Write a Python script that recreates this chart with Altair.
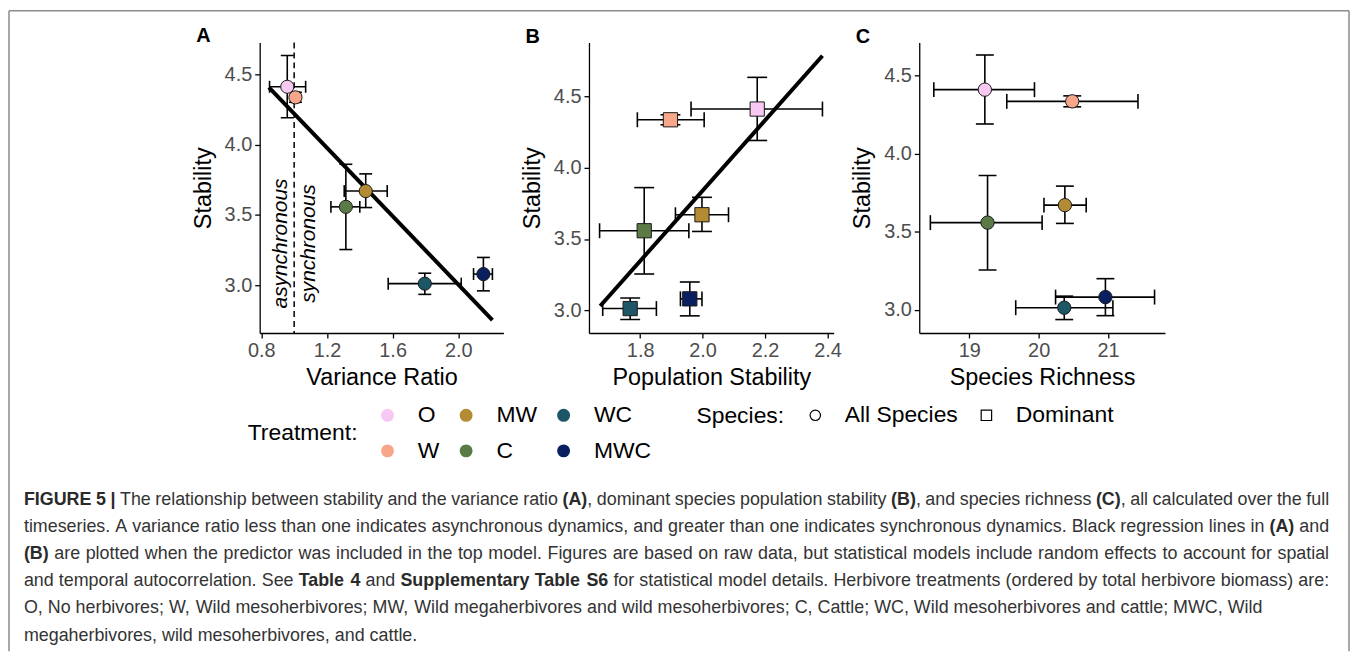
import altair as alt
import pandas as pd

# ---------------- data ----------------
treatments = ["O", "W", "MW", "C", "WC", "MWC"]
treatment_colors = ["#F6C8F2", "#F8A68A", "#B38B33", "#5A7B46", "#1D5667", "#0A1F5F"]
species_names = ["All Species", "Dominant"]

stability = [4.41, 4.335, 3.67, 3.558, 3.013, 3.081]
stability_lo = [4.19, 4.30, 3.553, 3.255, 2.937, 2.962]
stability_hi = [4.632, 4.37, 3.792, 3.86, 3.087, 3.199]

variance_ratio = [0.958, 1.008, 1.436, 1.315, 1.796, 2.153]
variance_ratio_lo = [0.85, 0.985, 1.305, 1.224, 1.573, 2.093]
variance_ratio_hi = [1.07, 1.03, 1.567, 1.40, 2.018, 2.208]

pop_stability = [2.175, 1.897, 1.998, 1.813, 1.768, 1.959]
pop_stability_lo = [1.963, 1.791, 1.913, 1.670, 1.680, 1.929]
pop_stability_hi = [2.384, 2.005, 2.083, 1.956, 1.852, 1.998]

richness = [19.225, 20.484, 20.378, 19.264, 20.369, 20.962]
richness_lo = [18.49, 19.541, 20.077, 18.44, 19.67, 20.244]
richness_hi = [19.94, 21.431, 20.685, 20.05, 21.07, 21.67]

fit_a_x = [0.846, 2.208]
fit_a_y = [4.406, 2.755]
fit_b_x = [1.672, 2.384]
fit_b_y = [3.031, 4.783]

sync_labels = ["asynchronous", "synchronous"]
sync_x = [0.921, 1.088]
sync_y = [3.298, 3.298]
vline_x = [1.0]

y_ticks = [3.0, 3.5, 4.0, 4.5]

caption_lines = [
    "**FIGURE 5 |** The relationship between stability and the variance ratio **(A)**, dominant species population stability **(B)**, and species richness **(C)**, all calculated over the full",
    "timeseries. A variance ratio less than one indicates asynchronous dynamics, and greater than one indicates synchronous dynamics. Black regression lines in **(A)** and",
    "**(B)** are plotted when the predictor was included in the top model. Figures are based on raw data, but statistical models include random effects to account for spatial",
    "and temporal autocorrelation. See **Table 4** and **Supplementary Table S6** for statistical model details. Herbivore treatments (ordered by total herbivore biomass) are:",
    "O, No herbivores; W, Wild mesoherbivores; MW, Wild megaherbivores and wild mesoherbivores; C, Cattle; WC, Wild mesoherbivores and cattle; MWC, Wild",
    "megaherbivores, wild mesoherbivores, and cattle.",
]

FONT = "Liberation Sans"

# ---------------- scales / legends ----------------
fill_scale = alt.Scale(domain=treatments, range=treatment_colors)
shape_scale = alt.Scale(domain=species_names, range=["circle", "square"])

fill_legend = alt.Legend(
    title="Treatment:", orient="none", legendX=-12, legendY=363, columns=3,
    titleOrient="left", titleAnchor="middle", titleFontSize=23, titleFontWeight="normal",
    titleColor="black", titleFont=FONT, titlePadding=18,
    labelFontSize=23, labelColor="black", labelFont=FONT, labelOffset=19,
    symbolType="circle", symbolSize=170, symbolStrokeWidth=0,
    columnPadding=15, rowPadding=12,
)
shape_legend = alt.Legend(
    title="Species:", orient="none", legendX=439, legendY=363, direction="horizontal",
    titleOrient="left", titleAnchor="middle", titleFontSize=23, titleFontWeight="normal",
    titleColor="black", titleFont=FONT, titlePadding=19,
    labelFontSize=23, labelColor="black", labelFont=FONT, labelOffset=18,
    symbolSize=110, symbolFillColor="white", symbolStrokeColor="black", symbolStrokeWidth=1.2,
    columnPadding=17,
)


def panel(letter, xvals, xlo, xhi, species, xdomain, xticks, xfmt, xtitle, ydomain,
          width, vcap, hcap, psize, fit=None, annot=False):
    df = pd.DataFrame({
        "treatment": treatments, "x": xvals, "xlo": xlo, "xhi": xhi,
        "y": stability, "ylo": stability_lo, "yhi": stability_hi,
        "species": [species] * len(treatments),
    })
    xs = alt.Scale(domain=xdomain, nice=False, zero=False)
    ys = alt.Scale(domain=ydomain, nice=False, zero=False)
    ax = alt.Axis(values=xticks, format=xfmt, title=xtitle)
    ay = alt.Axis(values=y_ticks, format=".1f", title="Stability")

    def X(f):
        return alt.X(f, type="quantitative", scale=xs, axis=ax)

    def Y(f):
        return alt.Y(f, type="quantitative", scale=ys, axis=ay)

    base = alt.Chart(df)
    layers = []
    if annot:
        vdf = pd.DataFrame({"x": vline_x})
        layers.append(alt.Chart(vdf).mark_rule(color="black", strokeWidth=1.5, strokeDash=[6, 4])
                      .encode(x=X("x")))
        tdf = pd.DataFrame({"label": sync_labels, "x": sync_x, "y": sync_y})
        layers.append(alt.Chart(tdf).mark_text(angle=270, fontStyle="italic", fontSize=21,
                                               font=FONT, color="black")
                      .encode(x=X("x"), y=Y("y"), text="label:N"))
    layers.append(base.mark_rule(color="black", strokeWidth=1.6)
                  .encode(x=X("x"), y=Y("ylo"), y2="yhi"))
    layers.append(base.transform_fold(["ylo", "yhi"], as_=["k", "cy"])
                  .mark_tick(orient="horizontal", size=vcap, thickness=1.6, color="black", opacity=1)
                  .encode(x=X("x"), y=Y("cy")))
    layers.append(base.mark_rule(color="black", strokeWidth=1.6)
                  .encode(y=Y("y"), x=X("xlo"), x2="xhi"))
    layers.append(base.transform_fold(["xlo", "xhi"], as_=["k", "cx"])
                  .mark_tick(orient="vertical", size=hcap, thickness=1.6, color="black", opacity=1)
                  .encode(x=X("cx"), y=Y("y")))
    if fit is not None:
        fdf = pd.DataFrame({"x": fit[0], "y": fit[1]})
        layers.append(alt.Chart(fdf).mark_line(color="black", strokeWidth=4)
                      .encode(x=X("x"), y=Y("y")))
    layers.append(base.mark_point(filled=True, opacity=1, stroke="#1a1a1a", strokeWidth=1, size=psize)
                  .encode(x=X("x"), y=Y("y"),
                          fill=alt.Fill("treatment:N", scale=fill_scale, legend=fill_legend),
                          shape=alt.Shape("species:N", scale=shape_scale, legend=shape_legend)))
    return alt.layer(*layers).properties(
        width=width, height=292,
        title=alt.TitleParams(letter, anchor="start", frame="bounds", fontSize=20,
                              fontWeight="bold", font=FONT, color="black",
                              baseline="alphabetic", offset=-20, dx=5),
    )


pa = panel("A", variance_ratio, variance_ratio_lo, variance_ratio_hi, "All Species",
           [0.79, 2.275], [0.8, 1.2, 1.6, 2.0], ".1f", "Variance Ratio", [2.663, 4.724],
           245, 13, 12, 175, fit=(fit_a_x, fit_a_y), annot=True)
pb = panel("B", pop_stability, pop_stability_lo, pop_stability_hi, "Dominant",
           [1.636, 2.42], [1.8, 2.0, 2.2, 2.4], ".1f", "Population Stability", [2.842, 4.876],
           246, 20, 15, 205, fit=(fit_b_x, fit_b_y))
pc = panel("C", richness, richness_lo, richness_hi, "All Species",
           [18.28, 21.82], [19, 20, 21], "d", "Species Richness", [2.851, 4.712],
           247, 18, 15, 180)

# ---------------- caption (text layout) ----------------
REG = {" ": 278, "(": 333, ")": 333, ",": 278, ".": 278, ":": 278, ";": 278, "|": 260, "-": 333}
BLD = {" ": 278, "(": 333, ")": 333, ",": 278, ".": 278, ":": 333, ";": 333, "|": 280, "-": 333}
for d in "0123456789":
    REG[d] = 556
    BLD[d] = 556
for c, w in zip("ABCDEFGHIJKLMNOPQRSTUVWXYZ",
                [667, 667, 722, 722, 667, 611, 778, 722, 278, 500, 667, 556, 833, 722, 778, 667, 778, 722, 667, 611, 722, 667, 944, 667, 667, 611]):
    REG[c] = w
for c, w in zip("abcdefghijklmnopqrstuvwxyz",
                [556, 556, 500, 556, 556, 278, 556, 556, 222, 222, 500, 222, 833, 556, 556, 556, 556, 333, 500, 278, 556, 500, 722, 500, 500, 500]):
    REG[c] = w
for c, w in zip("ABCDEFGHIJKLMNOPQRSTUVWXYZ",
                [722, 722, 722, 722, 667, 611, 778, 722, 278, 556, 722, 611, 833, 722, 778, 667, 778, 722, 667, 611, 722, 667, 944, 667, 667, 611]):
    BLD[c] = w
for c, w in zip("abcdefghijklmnopqrstuvwxyz",
                [556, 611, 556, 611, 556, 333, 611, 611, 278, 278, 556, 278, 889, 611, 611, 611, 611, 389, 556, 333, 611, 556, 778, 556, 556, 500]):
    BLD[c] = w


def frag_w(t, b):
    tab = BLD if b else REG
    return sum(tab.get(ch, 556) for ch in t) / 1000.0


def parse(line):
    words = [[]]
    for i, seg in enumerate(line.split("**")):
        b = i % 2 == 1
        for ch in seg:
            if ch == " ":
                if words[-1]:
                    words.append([])
            else:
                if words[-1] and words[-1][-1][1] == b:
                    words[-1][-1] = (words[-1][-1][0] + ch, b)
                else:
                    words[-1].append((ch, b))
    return [w for w in words if w]


# the caption view is a 4th (invisible) cell of the flush hconcat: its origin on the page
ORIGIN_X = 260 + 245 + 86 + 246 + 86 + 247 + 86
ORIGIN_Y = 40
CAP_LEFT, CAP_RIGHT = 23, 1335
parsed = [parse(l) for l in caption_lines]
em5 = sum(sum(frag_w(t, b) for t, b in w) for w in parsed[4]) + 0.278 * (len(parsed[4]) - 1)
CAP_SIZE = (1268 - CAP_LEFT) / em5

rows = []
for i, words in enumerate(parsed):
    ww = [sum(frag_w(t, b) for t, b in w) * CAP_SIZE for w in words]
    if i < 4:
        gap = (CAP_RIGHT - CAP_LEFT - sum(ww)) / (len(words) - 1)
    else:
        gap = 0.278 * CAP_SIZE
    x = CAP_LEFT
    y = 504.5 + 27.33 * i
    for w, wid in zip(words, ww):
        xx = x
        for t, b in w:
            rows.append({"px": xx - ORIGIN_X, "py": y - ORIGIN_Y, "text": t, "bold": b})
            xx += frag_w(t, b) * CAP_SIZE
        x += wid + gap

cap_df = pd.DataFrame(rows)
cap_x = alt.X("px:Q", scale=None, axis=None)
cap_y = alt.Y("py:Q", scale=None, axis=None)
cap_reg = alt.Chart(cap_df).transform_filter("!datum.bold").mark_text(
    align="left", baseline="alphabetic", font=FONT, fontSize=CAP_SIZE, color="#333333"
).encode(x=cap_x, y=cap_y, text="text:N")
cap_bold = alt.Chart(cap_df).transform_filter("datum.bold").mark_text(
    align="left", baseline="alphabetic", font=FONT, fontSize=CAP_SIZE, fontWeight="bold", color="#2a2a2a"
).encode(x=cap_x, y=cap_y, text="text:N")

dummy = pd.DataFrame({"a": [0]})
frame_left = alt.Chart(dummy).mark_rule(color="#8c8c8c", strokeWidth=1.5).encode(
    x=alt.value(8 - ORIGIN_X), y=alt.value(8 - ORIGIN_Y), y2=alt.value(652 - ORIGIN_Y))
frame_top = alt.Chart(dummy).mark_rule(color="#8c8c8c", strokeWidth=1.5).encode(
    x=alt.value(8 - ORIGIN_X), x2=alt.value(1355 - ORIGIN_X), y=alt.value(8 - ORIGIN_Y))
frame_right = alt.Chart(dummy).mark_rule(color="#8c8c8c", strokeWidth=1.5).encode(
    x=alt.value(1355 - ORIGIN_X), y=alt.value(8 - ORIGIN_Y), y2=alt.value(652 - ORIGIN_Y))

caption = alt.layer(frame_left, frame_top, frame_right, cap_reg, cap_bold).properties(width=2, height=292)

chart = alt.hconcat(pa, pb, pc, caption, spacing=86, bounds="flush").resolve_scale(
    fill="shared", shape="shared"
).properties(padding=0).configure_view(
    strokeWidth=0
).configure_axis(
    domainColor="black", domainWidth=1.3, tickColor="black", tickWidth=1.3, tickSize=5,
    labelColor="#4D4D4D", labelFontSize=20, labelFont=FONT, labelPadding=3,
    titleFont=FONT, titleFontSize=23.5, titleFontWeight="normal", titleColor="black", grid=False,
).configure_axisX(titlePadding=5).configure_axisY(titlePadding=9)

chart.save("out.html", embed_options={"renderer": "svg", "actions": False})
